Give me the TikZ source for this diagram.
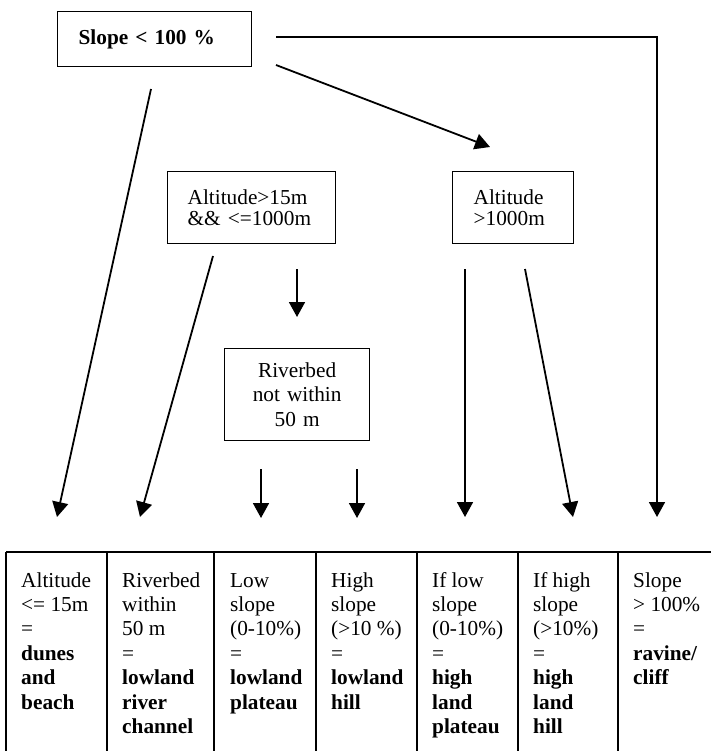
\documentclass[tikz,border=0pt]{standalone}
\usepackage{fontspec}
\setmainfont{Liberation Serif}
\usetikzlibrary{arrows.meta}
\newcommand{\boxfont}{\fontsize{21.3pt}{21pt}\selectfont}
\newcommand{\cellfont}{\fontsize{21.3pt}{24.4pt}\selectfont}
\begin{document}
\begin{tikzpicture}[x=1pt,y=-1pt,
  box/.style={draw, line width=1.3pt, inner ysep=0pt, anchor=north west, font=\boxfont},
  flow/.style={line width=1.8pt, -{Triangle[length=15pt,width=16pt]}},
  grid/.style={line width=1.8pt},
  cell/.style={anchor=base west, inner sep=0pt, font=\cellfont},
  ]
\useasboundingbox (0,0) rectangle (710,751);

% boxes
\node[box, inner xsep=21pt, text width=152pt, minimum height=55pt, align=left] (slope) at (57,11) {\textbf{Slope < 100 \%}};
\node[box, inner xsep=20pt, text width=128pt, minimum height=72pt, align=left] (alt15) at (167,171) {Altitude>15m\\\&\& <=1000m};
\node[box, inner xsep=21pt, text width=79pt, minimum height=72pt, align=left] (alt1000) at (452,171) {Altitude\\>1000m};
\node[box, inner xsep=10pt, text width=125pt, minimum height=92pt, align=center, font=\cellfont] (river) at (224,348) {Riverbed\\not within\\50 m};

% table grid
\draw[grid] (6,552) -- (712,552);
\foreach \x in {6,107,214,316,417,518,618} \draw[grid] (\x,552) -- (\x,753);

% table cells
\node[cell] (c1) at (21,587) {\parbox[t]{90pt}{Altitude\\<= 15m\\=\\\textbf{dunes}\\\textbf{and}\\\textbf{beach}}};
\node[cell] (c2) at (122,587) {\parbox[t]{90pt}{Riverbed\\within\\50 m\\=\\\textbf{lowland}\\\textbf{river}\\\textbf{channel}}};
\node[cell] (c3) at (230,587) {\parbox[t]{90pt}{Low\\slope\\(0-10\%)\\=\\\textbf{lowland}\\\textbf{plateau}}};
\node[cell] (c4) at (331,587) {\parbox[t]{90pt}{High\\slope\\(>10 \%)\\=\\\textbf{lowland}\\\textbf{hill}}};
\node[cell] (c5) at (432,587) {\parbox[t]{90pt}{If low\\slope\\(0-10\%)\\=\\\textbf{high}\\\textbf{land}\\\textbf{plateau}}};
\node[cell] (c6) at (533,587) {\parbox[t]{90pt}{If high\\slope\\(>10\%)\\=\\\textbf{high}\\\textbf{land}\\\textbf{hill}}};
\node[cell] (c7) at (633,587) {\parbox[t]{90pt}{Slope\\> 100\%\\=\\\textbf{ravine/}\\\textbf{cliff}}};

% connector end points
\coordinate (s1) at (151,89);   \coordinate (e1) at (57,517);
\coordinate (s2) at (276,65);   \coordinate (e2) at (490,147);
\coordinate (s3) at (276,37);   \coordinate (k3) at (657,37); \coordinate (e3) at (657,517);
\coordinate (s4) at (213,256);  \coordinate (e4) at (140,517);
\coordinate (s5) at (297,269);  \coordinate (e5) at (297,317);
\coordinate (s6) at (261,469);  \coordinate (e6) at (261,518);
\coordinate (s7) at (357,469);  \coordinate (e7) at (357,518);
\coordinate (s8) at (465,269);  \coordinate (e8) at (465,517);
\coordinate (s9) at (525,269);  \coordinate (e9) at (573,517);

% connectors
\draw[flow] (s1) -- (e1);
\draw[flow] (s2) -- (e2);
\draw[flow] (s3) -- (k3) -- (e3);
\draw[flow] (s4) -- (e4);
\draw[flow] (s5) -- (e5);
\draw[flow] (s6) -- (e6);
\draw[flow] (s7) -- (e7);
\draw[flow] (s8) -- (e8);
\draw[flow] (s9) -- (e9);
\end{tikzpicture}
\end{document}
